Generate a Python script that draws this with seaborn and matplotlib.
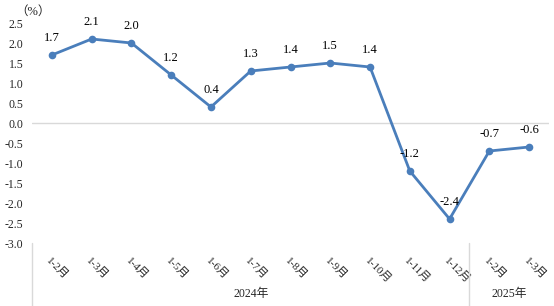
import matplotlib
matplotlib.use("Agg")
import matplotlib.pyplot as plt
import matplotlib.transforms as mtransforms
import seaborn as sns
import pandas as pd

categories = ["1-2月", "1-3月", "1-4月", "1-5月", "1-6月", "1-7月", "1-8月",
              "1-9月", "1-10月", "1-11月", "1-12月", "1-2月", "1-3月"]
values = [1.7, 2.1, 2.0, 1.2, 0.4, 1.3, 1.4, 1.5, 1.4, -1.2, -2.4, -0.7, -0.6]
years = ["2024年", "2025年"]
year_counts = [11, 2]
y_ticks = [2.5, 2.0, 1.5, 1.0, 0.5, 0.0, -0.5, -1.0, -1.5, -2.0, -2.5, -3.0]

sns.set_theme(style="white")
plt.rcParams['font.family'] = ['Liberation Serif', 'Noto Sans CJK SC']

df = pd.DataFrame({"idx": range(len(values)), "value": values})

W, H = 554, 306
fig = plt.figure(figsize=(W / 100, H / 100), dpi=100)
ax = fig.add_axes([32 / W, (H - 243) / H, (549 - 32) / W, (243 - 23) / H])

color = "#4a7ebb"
sns.lineplot(data=df, x="idx", y="value", ax=ax, color=color, linewidth=2,
             marker="o", markersize=5.5, markeredgewidth=0, markeredgecolor=color)

ax.axhline(0, color="#d9d9d9", linewidth=1, zorder=0)
ax.set_xlim(-0.5, len(values) - 0.5)
ax.set_ylim(-3.0, 2.5)
ax.set_yticks(y_ticks)
ax.set_yticklabels([f"{t:.1f}" for t in y_ticks], fontsize=8.5)
ax.tick_params(axis="y", length=0, pad=6)
ax.set_xticks(range(len(categories)))
ax.set_xticklabels(categories, fontsize=8, rotation=-45, ha="left",
                   rotation_mode="anchor")
ax.tick_params(axis="x", length=0, pad=9)
ax.set_xlabel("")
ax.set_ylabel("")
for s in ax.spines.values():
    s.set_visible(False)

for i, v in enumerate(values):
    ax.annotate(f"{v:.1f}", (i, v), xytext=(0, 8), textcoords="offset points",
                ha="center", va="bottom", fontsize=9, color="#000000")

trans = mtransforms.blended_transform_factory(ax.transData, ax.transAxes)
bounds = [-0.5]
for c in year_counts:
    bounds.append(bounds[-1] + c)
for b in bounds[:-1]:
    ax.plot([b, b], [0.0, -0.3], transform=trans, color="#d9d9d9",
            linewidth=1, clip_on=False)
for k, y in enumerate(years):
    mid = (bounds[k] + bounds[k + 1]) / 2
    ax.text(mid, -0.23, y, transform=trans, ha="center", va="center",
            fontsize=8.5)

fig.text(15 / W, 1 - 12 / H, "（%）", fontsize=9, ha="left", va="center")

fig.savefig("out.png", dpi=100, facecolor="white")
